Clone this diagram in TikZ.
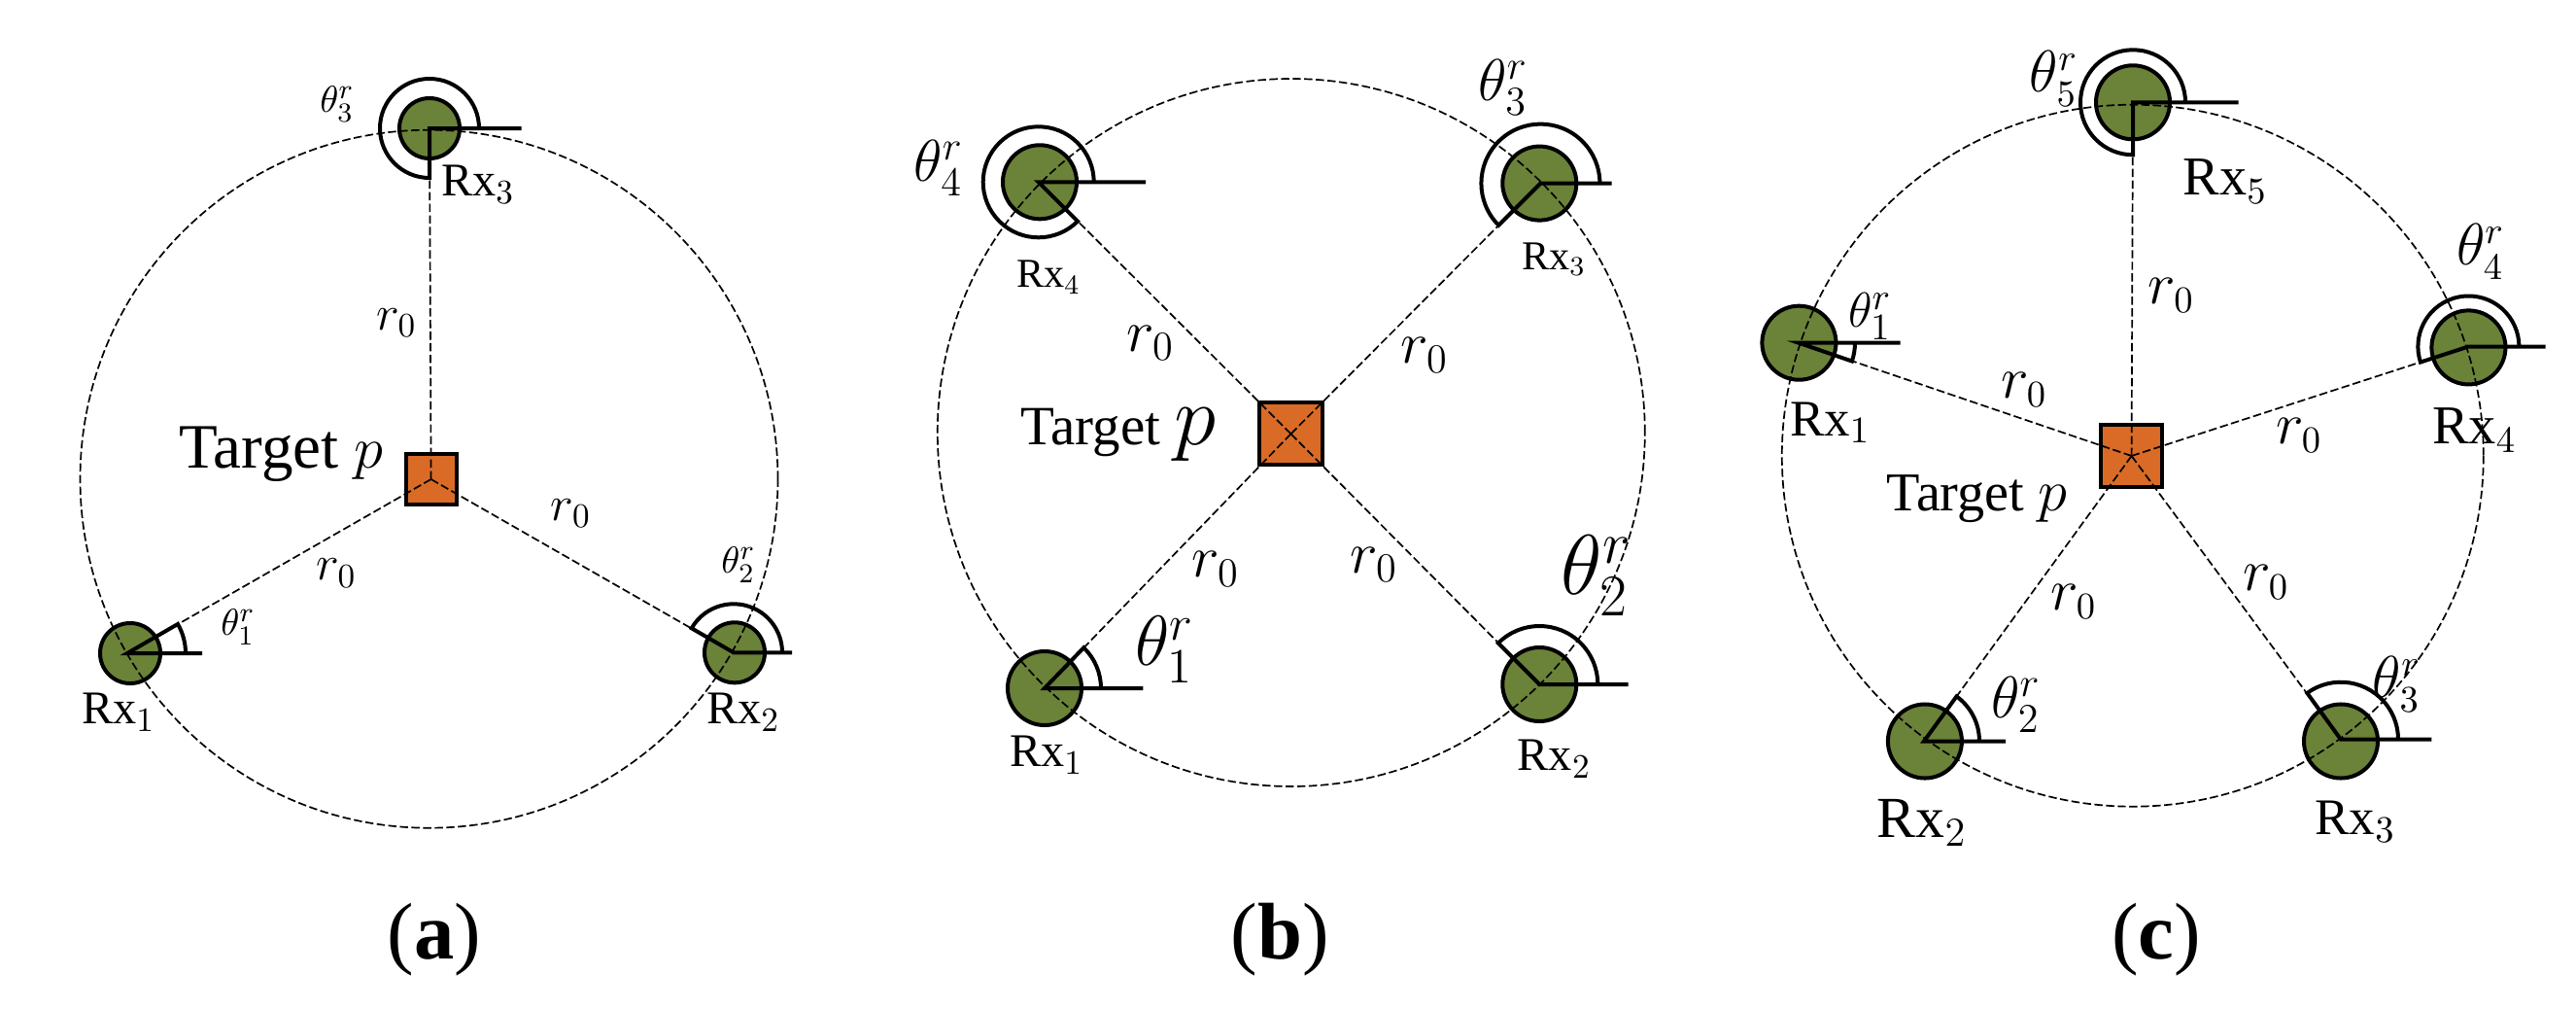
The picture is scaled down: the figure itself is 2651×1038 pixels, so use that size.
\documentclass[tikz,border=0pt]{standalone}
\usepackage{fontspec}
\setmainfont{Liberation Serif}
\definecolor{rxGreen}{HTML}{6B8239}
\definecolor{targetOrange}{HTML}{D96B27}
\newcommand{\fs}[1]{\fontsize{#1}{#1}\selectfont}
\tikzset{%
	% Specifications for style of nodes:
	base/.style = {draw=black, line width=0.04cm, inner sep=0pt},
	rxSmall/.style = {base, circle, fill=rxGreen, minimum size=0.62cm},
	rxLarge/.style = {base, circle, fill=rxGreen, minimum size=0.76cm},
	target/.style = {base, rectangle, fill=targetOrange},
	lbl/.style = {inner sep=0pt, text=black},
	dashLine/.style = {draw=black, line width=0.017cm, dash pattern=on 2.4pt off 1pt},
	angleLine/.style = {draw=black, line width=0.04cm},
}
\begin{document}
\begin{tikzpicture}[x=0.01cm, y=0.01cm]
	\useasboundingbox (0,0) rectangle (2651,1038);
	% Panel (a)
	\node (ta) [target, minimum size=0.52cm] at (443.6,545) {};
	\node (a1) [rxSmall] at (134,366) {};
	\node (a2) [rxSmall] at (756,366.7) {};
	\node (a3) [rxSmall] at (442,906) {};
	\coordinate (a1v) at (131,366);
	\coordinate (a2v) at (755,366.7);
	\coordinate (a3v) at (442,906);
	\coordinate (a1t) at (208,366);
	\coordinate (a2t) at (815,366.7);
	\coordinate (a3t) at (536.5,906);
	\coordinate (ac) at (441.5,545.3);
	\draw[dashLine] (ac) circle [radius=359];
	\draw[dashLine] (ta.center) -- (a1v);
	\draw[dashLine] (ta.center) -- (a2v);
	\draw[dashLine] (ta.center) -- (a3v);
	\draw[angleLine] (a1t) -- (a1v) -- ++(30:60) arc[start angle=30, end angle=0, radius=60];
	\draw[angleLine] (a2t) -- (a2v) -- ++(150:50) arc[start angle=150, end angle=0, radius=50];
	\draw[angleLine] (a3t) -- (a3v) -- ++(270:51) arc[start angle=270, end angle=0, radius=51];
	\node (a1l) [lbl, font=\fs{13.7}] at (122,305) {Rx$_1$};
	\node (a2l) [lbl, font=\fs{13.7}] at (765,305) {Rx$_2$};
	\node (a3l) [lbl, font=\fs{13.7}] at (492,848.5) {Rx$_3$};
	\node (atl) [lbl, font=\fs{18.5}] at (289.5,571) {Target $p$};
	\node (ar1) [lbl, font=\fs{14}] at (408,706) {$r_0$};
	\node (ar2) [lbl, font=\fs{14}] at (587.5,510) {$r_0$};
	\node (ar3) [lbl, font=\fs{14}] at (346,448.5) {$r_0$};
	\node (ath1) [lbl, font=\fs{11}] at (245,393) {$\theta_1^r$};
	\node (ath2) [lbl, font=\fs{11}] at (760,457) {$\theta_2^r$};
	\node (ath3) [lbl, font=\fs{11}] at (347,931) {$\theta_3^r$};
	\node (acap) [lbl, font=\fs{23.5}] at (447,71.3) {(\textbf{a})};
	% Panel (b)
	\node (tb) [target, minimum size=0.64cm] at (1328.5,591.7) {};
	\node (b1) [rxLarge] at (1075,330) {};
	\node (b2) [rxLarge] at (1584.3,334) {};
	\node (b3) [rxLarge] at (1584.3,849.4) {};
	\node (b4) [rxLarge] at (1070,850.7) {};
	\coordinate (b1v) at (1075,330);
	\coordinate (b2v) at (1584.3,334);
	\coordinate (b3v) at (1585.4,849.4);
	\coordinate (b4v) at (1068.7,850.7);
	\coordinate (b1t) at (1176.3,330);
	\coordinate (b2t) at (1675.5,334);
	\coordinate (b3t) at (1658.5,849.4);
	\coordinate (b4t) at (1179,850.7);
	\coordinate (bc) at (1328.8,593);
	\draw[dashLine] (bc) circle [radius=364];
	\draw[dashLine] (tb.center) -- (b1v);
	\draw[dashLine] (tb.center) -- (b2v);
	\draw[dashLine] (tb.center) -- (b3v);
	\draw[dashLine] (tb.center) -- (b4v);
	\draw[angleLine] (b1t) -- (b1v) -- ++(46:58) arc[start angle=46, end angle=0, radius=58];
	\draw[angleLine] (b2t) -- (b2v) -- ++(135:60) arc[start angle=135, end angle=0, radius=60];
	\draw[angleLine] (b3t) -- (b3v) -- ++(225:61) arc[start angle=225, end angle=0, radius=61];
	\draw[angleLine] (b4t) -- (b4v) -- ++(315:57) arc[start angle=315, end angle=0, radius=57];
	\node (b1l) [lbl, font=\fs{13.7}] at (1077,261.4) {Rx$_1$};
	\node (b2l) [lbl, font=\fs{13.7}] at (1599.6,257) {Rx$_2$};
	\node (b3l) [lbl, font=\fs{12}] at (1599,771) {Rx$_3$};
	\node (b4l) [lbl, font=\fs{12}] at (1079,752.7) {Rx$_4$};
	\node (btl) [lbl, font=\fs{16.2}] at (1151,591) {Target {\fs{23}$p$}};
	\node (br1) [lbl, font=\fs{18}] at (1184,685) {$r_0$};
	\node (br2) [lbl, font=\fs{18}] at (1466,672.6) {$r_0$};
	\node (br3) [lbl, font=\fs{18}] at (1251,452.6) {$r_0$};
	\node (br4) [lbl, font=\fs{18}] at (1414,456.7) {$r_0$};
	\node (bth1) [lbl, font=\fs{21}] at (1198.5,369.6) {$\theta_1^r$};
	\node (bth2) [lbl, font=\fs{26}] at (1643,446) {$\theta_2^r$};
	\node (bth3) [lbl, font=\fs{17.5}] at (1547,948) {$\theta_3^r$};
	\node (bth4) [lbl, font=\fs{17.5}] at (966,865) {$\theta_4^r$};
	\node (bcap) [lbl, font=\fs{23.5}] at (1317.4,71.3) {(\textbf{b})};
	% Panel (c)
	\node (tc) [target, minimum size=0.63cm] at (2193.6,569) {};
	\node (c1) [rxLarge] at (1851.4,685.3) {};
	\node (c2) [rxLarge] at (1980.9,275.5) {};
	\node (c3) [rxLarge] at (2409,275.5) {};
	\node (c4) [rxLarge] at (2540.4,680.6) {};
	\node (c5) [rxLarge] at (2195,932.7) {};
	\coordinate (c1v) at (1851,685.3);
	\coordinate (c2v) at (1980,275.5);
	\coordinate (c3v) at (2409,277.3);
	\coordinate (c4v) at (2540.4,681.5);
	\coordinate (c5v) at (2195,932.7);
	\coordinate (c1t) at (1955.7,685.3);
	\coordinate (c2t) at (2064,275.5);
	\coordinate (c3t) at (2502.4,277.3);
	\coordinate (c4t) at (2619.7,681.5);
	\coordinate (c5t) at (2303.5,932.7);
	\coordinate (cc) at (2194.8,569.3);
	\draw[dashLine] (cc) circle [radius=361];
	\draw[dashLine] (tc.center) -- (c1v);
	\draw[dashLine] (tc.center) -- (c2v);
	\draw[dashLine] (tc.center) -- (c3v);
	\draw[dashLine] (tc.center) -- (c4v);
	\draw[dashLine] (tc.center) -- (c5v);
	\draw[angleLine] (c1t) -- (c1v) -- ++(-19:58) arc[start angle=-19, end angle=0, radius=58];
	\draw[angleLine] (c2t) -- (c2v) -- ++(54:57) arc[start angle=54, end angle=0, radius=57];
	\draw[angleLine] (c3t) -- (c3v) -- ++(126:59) arc[start angle=126, end angle=0, radius=59];
	\draw[angleLine] (c4t) -- (c4v) -- ++(198:52) arc[start angle=198, end angle=0, radius=52];
	\draw[angleLine] (c5t) -- (c5v) -- ++(270:54) arc[start angle=270, end angle=0, radius=54];
	\node (c1l) [lbl, font=\fs{15}] at (1883.7,603.3) {Rx$_1$};
	\node (c2l) [lbl, font=\fs{17}] at (1978,191.4) {Rx$_2$};
	\node (c3l) [lbl, font=\fs{15}] at (2424,193) {Rx$_3$};
	\node (c4l) [lbl, font=\fs{16}] at (2546.6,595.6) {Rx$_4$};
	\node (c5l) [lbl, font=\fs{16}] at (2290,851.4) {Rx$_5$};
	\node (ctl) [lbl, font=\fs{16}] at (2034.4,525) {Target {\fs{18}$p$}};
	\node (cr1) [lbl, font=\fs{16}] at (2083,637) {$r_0$};
	\node (cr2) [lbl, font=\fs{16}] at (2134,419) {$r_0$};
	\node (cr3) [lbl, font=\fs{16}] at (2332,439) {$r_0$};
	\node (cr4) [lbl, font=\fs{16}] at (2366,590) {$r_0$};
	\node (cr5) [lbl, font=\fs{16}] at (2234.4,734.4) {$r_0$};
	\node (cth1) [lbl, font=\fs{15}] at (1924.5,712.6) {$\theta_1^r$};
	\node (cth2) [lbl, font=\fs{17}] at (2074.6,312.7) {$\theta_2^r$};
	\node (cth3) [lbl, font=\fs{16}] at (2466.7,334.3) {$\theta_3^r$};
	\node (cth4) [lbl, font=\fs{16}] at (2552.8,779) {$\theta_4^r$};
	\node (cth5) [lbl, font=\fs{16}] at (2113.7,956.8) {$\theta_5^r$};
	\node (ccap) [lbl, font=\fs{23.5}] at (2219,71.3) {(\textbf{c})};
\end{tikzpicture}
\end{document}
